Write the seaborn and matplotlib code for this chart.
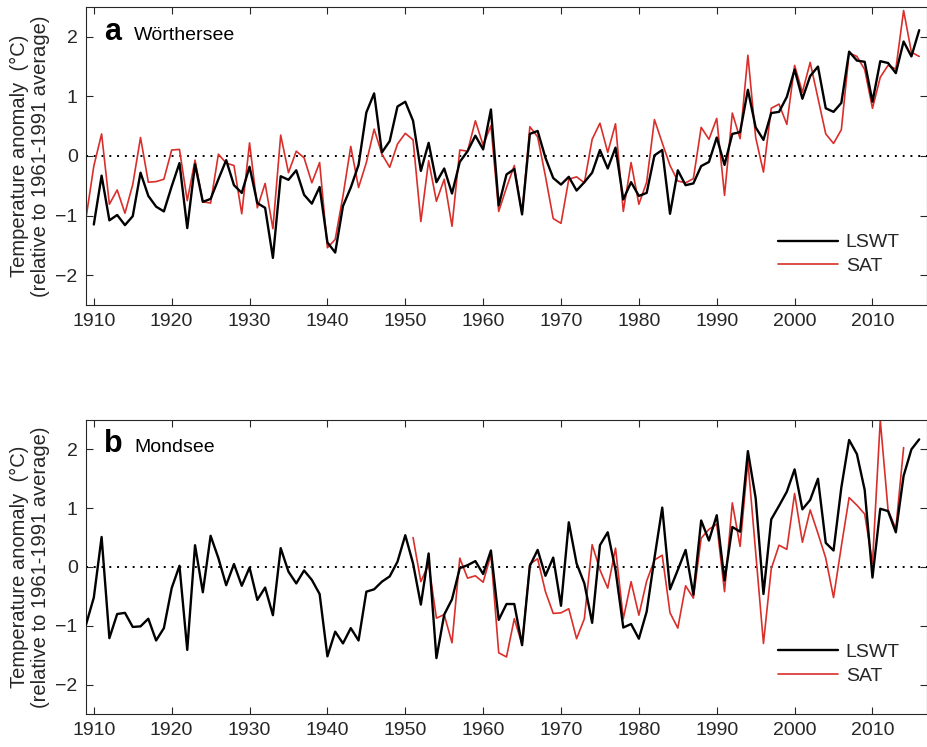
import numpy as np
import pandas as pd
import seaborn as sns
import matplotlib.pyplot as plt

# Wörthersee
years_a_lswt = np.arange(1910, 2017)
lswt_a = [-1.15, -0.33, -1.08, -0.99, -1.16, -1.01, -0.28, -0.67, -0.85, -0.93,
          -0.51, -0.12, -1.21, -0.14, -0.77, -0.72, -0.39, -0.07, -0.49, -0.62,
          -0.18, -0.79, -0.87, -1.71, -0.34, -0.40, -0.24, -0.65, -0.80, -0.52,
          -1.45, -1.62, -0.84, -0.53, -0.15, 0.73, 1.05, 0.06, 0.25, 0.83,
          0.91, 0.59, -0.25, 0.22, -0.44, -0.21, -0.63, -0.10, 0.08, 0.34,
          0.11, 0.78, -0.83, -0.31, -0.22, -0.98, 0.37, 0.42, -0.03, -0.37,
          -0.48, -0.35, -0.58, -0.44, -0.28, 0.10, -0.21, 0.14, -0.73, -0.44,
          -0.67, -0.62, 0.01, 0.10, -0.97, -0.24, -0.49, -0.46, -0.17, -0.10,
          0.31, -0.15, 0.37, 0.40, 1.11, 0.48, 0.27, 0.72, 0.74, 0.99,
          1.45, 0.96, 1.34, 1.50, 0.80, 0.74, 0.89, 1.75, 1.60, 1.58,
          0.91, 1.59, 1.56, 1.39, 1.92, 1.67, 2.11]

years_a_sat = np.arange(1909, 2017)
sat_a = [-1.04,
         -0.17, 0.37, -0.81, -0.57, -0.96, -0.48, 0.31, -0.44, -0.43, -0.39,
         0.10, 0.11, -0.75, -0.07, -0.77, -0.79, 0.03, -0.12, -0.16, -0.97,
         0.22, -0.87, -0.46, -1.22, 0.35, -0.28, 0.08, -0.03, -0.45, -0.11,
         -1.54, -1.40, -0.67, 0.16, -0.53, -0.11, 0.45, 0.03, -0.19, 0.20,
         0.38, 0.27, -1.10, -0.08, -0.76, -0.39, -1.18, 0.10, 0.08, 0.59,
         0.18, 0.51, -0.93, -0.53, -0.16, -0.98, 0.49, 0.32, -0.34, -1.05,
         -1.13, -0.39, -0.35, -0.45, 0.28, 0.55, 0.06, 0.54, -0.93, -0.11,
         -0.81, -0.44, 0.61, 0.22, -0.16, -0.42, -0.45, -0.38, 0.48, 0.28,
         0.63, -0.66, 0.72, 0.29, 1.69, 0.31, -0.27, 0.80, 0.87, 0.53,
         1.52, 1.07, 1.57, 0.97, 0.37, 0.21, 0.44, 1.73, 1.67, 1.45,
         0.80, 1.32, 1.52, 1.46, 2.44, 1.74, 1.67]

# Mondsee
years_b_lswt = np.arange(1909, 2017)
lswt_b = [-0.98,
          -0.52, 0.51, -1.21, -0.80, -0.78, -1.02, -1.01, -0.88, -1.25, -1.04,
          -0.36, 0.02, -1.41, 0.37, -0.43, 0.53, 0.15, -0.31, 0.05, -0.32,
          -0.01, -0.56, -0.35, -0.82, 0.32, -0.08, -0.28, -0.06, -0.22, -0.46,
          -1.52, -1.10, -1.30, -1.04, -1.25, -0.42, -0.38, -0.25, -0.16, 0.09,
          0.54, 0.06, -0.64, 0.23, -1.55, -0.81, -0.55, -0.02, 0.03, 0.10,
          -0.12, 0.28, -0.90, -0.63, -0.63, -1.33, 0.02, 0.29, -0.15, 0.16,
          -0.66, 0.76, 0.06, -0.28, -0.95, 0.37, 0.59, -0.05, -1.03, -0.97,
          -1.22, -0.76, 0.15, 1.01, -0.38, -0.05, 0.29, -0.47, 0.79, 0.45,
          0.88, -0.23, 0.68, 0.60, 1.97, 1.17, -0.46, 0.81, 1.04, 1.28,
          1.66, 0.98, 1.14, 1.50, 0.41, 0.28, 1.35, 2.16, 1.92, 1.31,
          -0.18, 0.99, 0.95, 0.59, 1.55, 2.00, 2.17]

years_b_sat = np.arange(1951, 2015)
sat_b = [0.50, -0.25, 0.05, -0.87, -0.81, -1.29, 0.15, -0.19, -0.15, -0.26,
         0.21, -1.46, -1.53, -0.88, -1.32, 0.05, 0.14, -0.42, -0.79, -0.78,
         -0.71, -1.22, -0.88, 0.38, -0.05, -0.36, 0.32, -0.88, -0.25, -0.82,
         -0.24, 0.12, 0.20, -0.78, -1.04, -0.32, -0.53, 0.49, 0.64, 0.73,
         -0.42, 1.09, 0.35, 1.80, 0.25, -1.30, -0.03, 0.37, 0.30, 1.25,
         0.42, 0.97, 0.57, 0.15, -0.52, 0.35, 1.18, 1.05, 0.90, 0.06,
         2.50, 0.97, 0.65, 2.03]

panels = [
    ('a', 'Wörthersee', years_a_lswt, lswt_a, years_a_sat, sat_a),
    ('b', 'Mondsee', years_b_lswt, lswt_b, years_b_sat, sat_b),
]

sns.set_style('ticks')
plt.rcParams['font.family'] = ['Liberation Sans', 'DejaVu Sans']

grey = '#262626'
red = '#d92f2b'

fig = plt.figure(figsize=(9.28, 7.47), dpi=100)
ax_a = fig.add_axes([0.0927, 0.5917, 0.9062, 0.3990])
ax_b = fig.add_axes([0.0927, 0.0442, 0.9062, 0.3936])

for ax, (letter, lake, yl, vl, ys, vs) in zip([ax_a, ax_b], panels):
    df_l = pd.DataFrame({'year': yl, 'anomaly': vl})
    df_s = pd.DataFrame({'year': ys, 'anomaly': vs})
    ax.axhline(0, color='black', lw=1.4, ls=(0, (1, 3)), zorder=1)
    sns.lineplot(data=df_l, x='year', y='anomaly', ax=ax, color='black',
                 lw=1.7, label='LSWT', zorder=3)
    sns.lineplot(data=df_s, x='year', y='anomaly', ax=ax, color=red,
                 lw=1.2, label='SAT', zorder=2)

    ax.set_xlim(1909, 2017)
    ax.set_ylim(-2.5, 2.5)
    ax.set_xticks(range(1910, 2011, 10))
    ax.set_yticks([-2, -1, 0, 1, 2])
    ax.tick_params(direction='in', top=True, right=True, length=5,
                   width=0.8, colors=grey, labelsize=14, pad=6)
    for sp in ax.spines.values():
        sp.set_visible(True)
        sp.set_color(grey)
        sp.set_linewidth(0.8)

    ax.set_xlabel('')
    ax.set_ylabel('Temperature anomaly  (°C)\n(relative to 1961-1991 average)',
                  fontsize=14.5, color=grey, labelpad=4, linespacing=1.15)

    ax.text(0.0214, 0.89, letter, transform=ax.transAxes, fontsize=22,
            fontweight='bold', va='baseline', ha='left', color='black')
    ax.text(0.057, 0.89, lake, transform=ax.transAxes, fontsize=14,
            va='baseline', ha='left', color='black')

    ax.legend(loc='center left', bbox_to_anchor=(0.8225, 0.170),
              frameon=False, fontsize=14, handlelength=3.1,
              handletextpad=0.4, labelspacing=0.3, borderpad=0,
              borderaxespad=0)

fig.savefig('out.png', dpi=100)
